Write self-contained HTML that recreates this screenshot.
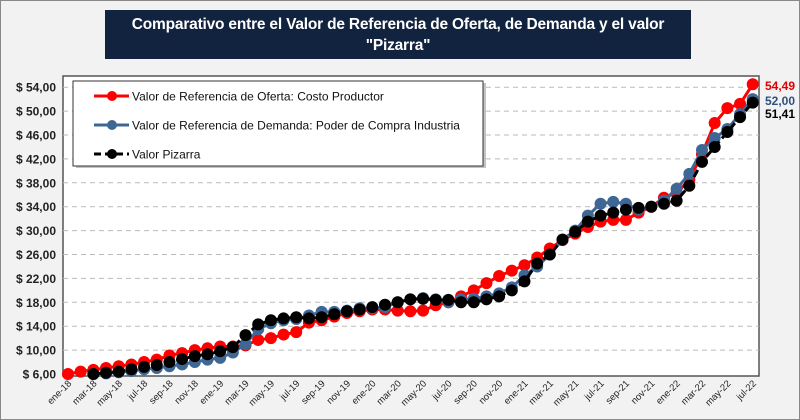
<!DOCTYPE html>
<html><head><meta charset="utf-8"><style>
body{margin:0;background:#fff}
#c{position:relative;width:798px;height:418px;border:1px solid #888;background:#f2f2f2;overflow:hidden;font-family:"Liberation Sans",sans-serif}
#t{position:absolute;left:104px;top:9px;width:586px;height:49px;background:#12233f;color:#fff;font-weight:bold;font-size:15.5px;text-align:center;line-height:21px;padding-top:4px;box-sizing:border-box;white-space:nowrap;letter-spacing:-0.2px}
</style></head><body><div id="c">
<svg id="s" width="798" height="418" style="position:absolute;left:0;top:0"></svg>
<div id="t">Comparativo entre el Valor de Referencia de Oferta, de Demanda y el valor<br>"Pizarra"</div>
</div>
<script>
const red=[6.0,6.4,6.7,7.0,7.3,7.6,8.0,8.4,9.1,9.5,10.0,10.3,10.6,10.6,10.8,11.7,12.0,12.6,13.0,14.6,15.0,15.6,16.2,16.5,16.8,16.8,16.6,16.5,16.6,17.5,18.0,19.0,20.0,21.2,22.4,23.3,24.2,25.5,27.0,28.4,29.5,30.6,31.5,31.8,31.8,33.0,34.0,35.5,36.3,38.5,42.8,48.0,50.5,51.2,54.49];
const blue=[null,null,6.0,6.1,6.3,6.5,6.8,7.0,7.3,7.6,8.0,8.4,8.7,9.6,11.0,13.5,14.5,15.0,15.2,15.8,16.4,16.4,16.6,17.0,17.0,17.2,18.0,18.5,18.7,18.5,18.0,18.5,18.6,19.0,19.5,20.5,22.5,24.0,26.0,28.5,30.0,32.5,34.5,34.8,34.5,33.5,34.0,35.0,37.0,39.5,43.5,45.5,47.0,49.5,52.0];
const blk=[null,null,6.0,6.2,6.4,6.8,7.2,7.5,8.0,8.5,9.0,9.3,9.8,10.5,12.5,14.3,15.0,15.3,15.5,15.3,15.5,16.0,16.5,16.8,17.2,17.6,18.0,18.5,18.6,18.4,18.4,18.0,18.0,18.5,19.0,20.0,21.5,24.5,26.0,28.5,29.8,31.5,32.5,33.0,33.5,33.8,34.0,34.5,35.0,37.5,41.5,44.0,46.5,49.0,51.41];
const X=i=>67+i*12.68, Y=v=>373-(v-6)*23.9/4;
let h='<rect x="62" y="75" width="696" height="300" fill="#fff" stroke="#555" stroke-width="1.5"/>';
for(let v=6;v<=54;v+=4){const y=Y(v);
 if(v>6)h+=`<line x1="62" x2="758" y1="${y}" y2="${y}" stroke="#bbb" stroke-dasharray="5,4"/>`;
 h+=`<text x="55" y="${y+4.5}" text-anchor="end" font-size="12" font-weight="bold" fill="#222">$ ${v},00</text>`;}
const m=['ene','mar','may','jul','sep','nov'];
for(let i=0;i<55;i+=2){const yr=18+Math.floor(i/12);const lab=m[(i%12)/2]+'-'+yr;
 h+=`<text transform="translate(${X(i)+4},383) rotate(-45)" text-anchor="end" font-size="9.5" fill="#222">${lab}</text>`;}
function ser(d,c,dash){let p=[];d.forEach((v,i)=>{if(v!=null)p.push(X(i)+','+Y(v))});
 let s=`<polyline points="${p.join(' ')}" fill="none" stroke="${c}" stroke-width="3" ${dash?'stroke-dasharray="8,4"':''}/>`;
 d.forEach((v,i)=>{if(v!=null)s+=`<circle cx="${X(i)}" cy="${Y(v)}" r="6" fill="${c}"/>`});return s;}
h+=ser(red,'#ff0000')+ser(blue,'#3f6796')+ser(blk,'#000',1);
h+=`<text x="764" y="89" font-size="12" font-weight="bold" fill="#e00000">54,49</text>`;
h+=`<text x="764" y="104" font-size="12" font-weight="bold" fill="#2f4f7f">52,00</text>`;
h+=`<text x="764" y="117" font-size="12" font-weight="bold" fill="#000">51,41</text>`;
h+='<rect x="75" y="82" width="410" height="85" fill="#888" opacity=".5"/><rect x="72" y="80" width="410" height="85" fill="#fff" stroke="#333"/>';
const L=[['#ff0000','Valor de Referencia de Oferta: Costo Productor',0],['#3f6796','Valor de Referencia de Demanda: Poder de Compra Industria',0],['#000','Valor Pizarra',1]];
L.forEach((l,k)=>{const y=95+k*29;h+=`<line x1="93" x2="128" y1="${y}" y2="${y}" stroke="${l[0]}" stroke-width="3" ${l[2]?'stroke-dasharray="7,4"':''}/><circle cx="111" cy="${y}" r="5" fill="${l[0]}"/><text x="131" y="${y+4.5}" font-size="12" fill="#111">${l[1]}</text>`});
document.getElementById('s').innerHTML=h;
</script></body></html>
